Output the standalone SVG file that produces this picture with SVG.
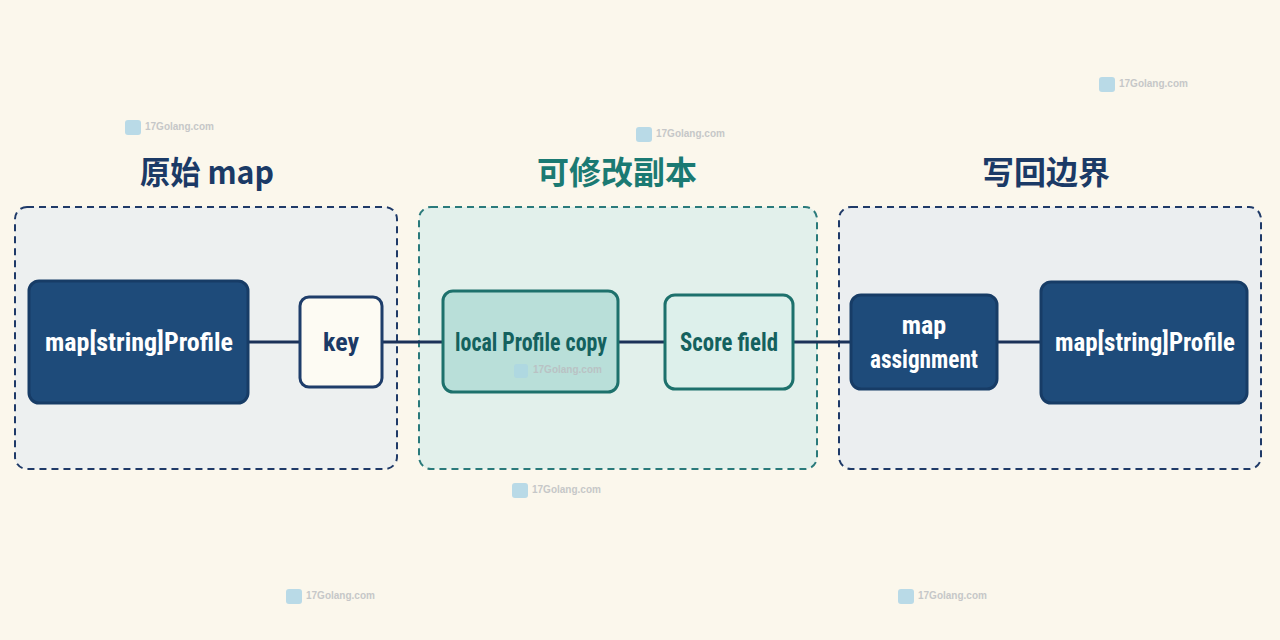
<svg xmlns="http://www.w3.org/2000/svg" width="1280" height="640" viewBox="0 0 1280 640">
<style>
.title{font-family:"Noto Sans CJK SC","Noto Sans",sans-serif;font-weight:700;font-size:32px;text-anchor:middle}
.lbl{font-family:"Liberation Sans Narrow","Roboto Condensed","Liberation Sans",sans-serif;font-weight:700;font-size:26px;text-anchor:middle}
.dark{fill:#1E4B7A;stroke:#173C66;stroke-width:3}
.wm{font-family:"Liberation Sans",sans-serif;font-weight:700;font-size:10px;fill:#b9bcc0}
.wmi{fill:#a9d3e6}
</style>
<rect width="1280" height="640" fill="#FBF7EC"/>
<g id="watermarks" opacity="0.8">
<rect class="wmi" x="125" y="120" width="16" height="15" rx="3"/><text class="wm" x="145" y="130">17Golang.com</text>
<rect class="wmi" x="636" y="127" width="16" height="15" rx="3"/><text class="wm" x="656" y="137">17Golang.com</text>
<rect class="wmi" x="1099" y="77" width="16" height="15" rx="3"/><text class="wm" x="1119" y="87">17Golang.com</text>
<rect class="wmi" x="512" y="483" width="16" height="15" rx="3"/><text class="wm" x="532" y="493">17Golang.com</text>
<rect class="wmi" x="286" y="589" width="16" height="15" rx="3"/><text class="wm" x="306" y="599">17Golang.com</text>
<rect class="wmi" x="898" y="589" width="16" height="15" rx="3"/><text class="wm" x="918" y="599">17Golang.com</text>
</g>
<g id="group-original">
<rect x="15" y="207" width="382" height="262" rx="12" fill="#EDF0F0" stroke="#1F3A68" stroke-width="2" stroke-dasharray="7 5"/>
<text class="title" x="207" y="184" fill="#1B3A66" textLength="134" lengthAdjust="spacingAndGlyphs">原始 map</text>
</g>
<g id="group-copy">
<rect x="419" y="207" width="398" height="262" rx="12" fill="#E2F0EB" stroke="#2A7A7B" stroke-width="2" stroke-dasharray="7 5"/>
<text class="title" x="617" y="184" fill="#1B7A73">可修改副本</text>
</g>
<g id="group-writeback">
<rect x="839" y="207" width="422" height="262" rx="12" fill="#EBEEF0" stroke="#1F3A68" stroke-width="2" stroke-dasharray="7 5"/>
<text class="title" x="1046" y="184" fill="#1B3A66">写回边界</text>
</g>
<g id="connectors" stroke="#1B3158" stroke-width="3" fill="none">
<line x1="248" y1="342" x2="300" y2="342"/>
<line x1="382" y1="342" x2="443" y2="342"/>
<line x1="618" y1="342" x2="665" y2="342"/>
<line x1="793" y1="342" x2="851" y2="342"/>
<line x1="997" y1="342" x2="1041" y2="342"/>
</g>
<g id="node-map-src">
<rect class="dark" x="29" y="281" width="219" height="122" rx="10"/>
<text class="lbl" x="139" y="351" fill="#FFFFFF">map[string]Profile</text>
</g>
<g id="node-key">
<rect x="300" y="297" width="82" height="90" rx="9" fill="#FDFBF3" stroke="#1E3D6A" stroke-width="3"/>
<text class="lbl" x="341" y="351" fill="#1B3A66">key</text>
</g>
<g id="node-local-copy">
<rect x="443" y="291" width="175" height="101" rx="10" fill="#B9DFD9" stroke="#1D716C" stroke-width="3"/>
<text class="lbl" x="531" y="351" fill="#14615E" textLength="152" lengthAdjust="spacingAndGlyphs">local Profile copy</text>
<rect class="wmi" x="514" y="364" width="14" height="14" rx="3" opacity="0.6"/><text class="wm" x="533" y="373" opacity="0.8">17Golang.com</text>
</g>
<g id="node-score">
<rect x="665" y="295" width="128" height="94" rx="10" fill="#DDF0EB" stroke="#1D716C" stroke-width="3"/>
<text class="lbl" x="729" y="351" fill="#14615E" textLength="98" lengthAdjust="spacingAndGlyphs">Score field</text>
</g>
<g id="node-assign">
<rect class="dark" x="851" y="295" width="146" height="94" rx="10"/>
<text class="lbl" x="924" y="334" fill="#FFFFFF">map</text>
<text class="lbl" x="924" y="368" fill="#FFFFFF" textLength="108" lengthAdjust="spacingAndGlyphs">assignment</text>
</g>
<g id="node-map-dst">
<rect class="dark" x="1041" y="282" width="206" height="121" rx="10"/>
<text class="lbl" x="1145" y="351" fill="#FFFFFF" textLength="180" lengthAdjust="spacingAndGlyphs">map[string]Profile</text>
</g>
</svg>
